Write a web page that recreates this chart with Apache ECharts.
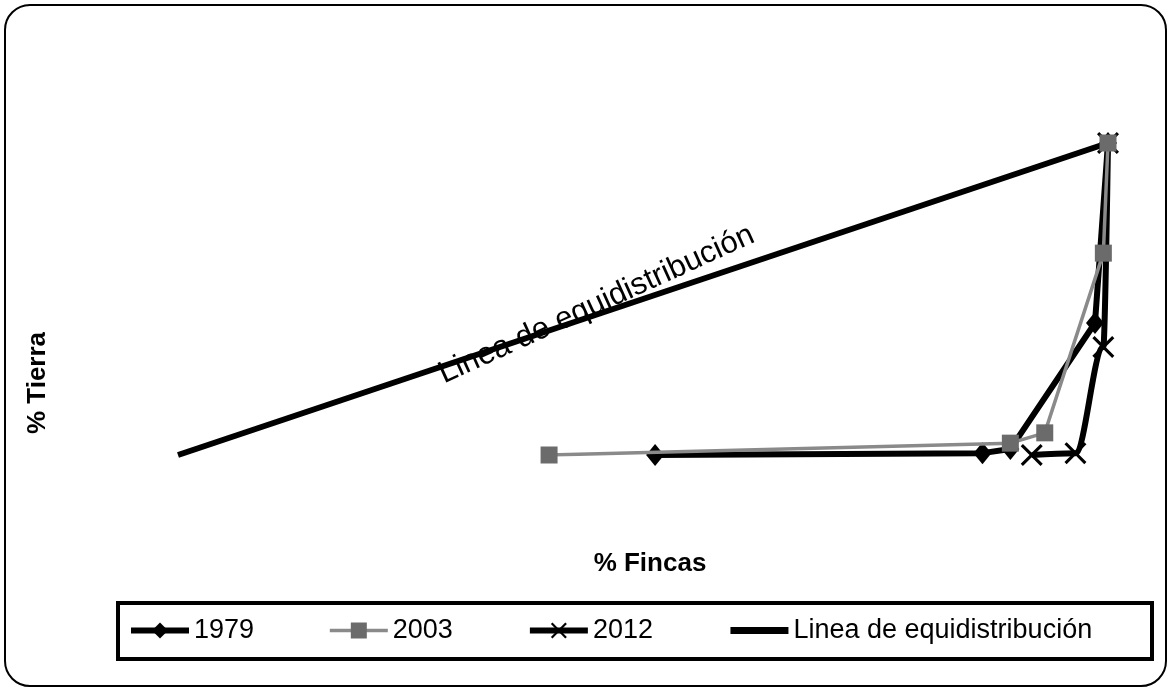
<!DOCTYPE html>
<html>
<head>
<meta charset="utf-8">
<script src="https://cdn.jsdelivr.net/npm/echarts@6/dist/echarts.min.js"></script>
<style>
html,body{margin:0;padding:0;background:#fff;}
#chart{width:1172px;height:690px;}
</style>
</head>
<body>
<div id="chart"></div>
<script>
// ---- Data ----
const seriesNames = ['1979', '2003', '2012', 'Linea de equidistribución'];
const fincas1979 = [51.3, 86.5, 89.5, 98.6, 100];
const tierra1979 = [0, 0.6, 1.9, 42.3, 100];
const fincas2003 = [39.9, 89.5, 93.2, 99.5, 100];
const tierra2003 = [0, 3.8, 7.1, 64.7, 100];
const fincas2012 = [91.8, 96.5, 99.5, 100];
const tierra2012 = [0, 0.6, 34.6, 100];
const fincasEqui = [0, 100];
const tierraEqui = [0, 100];
const xTitle = '% Fincas';
const yTitle = '% Tierra';
const diagLabel = 'Linea de equidistribución';

function pairs(xs, ys) { return xs.map((x, i) => [x, ys[i]]); }

const FONT = "'Liberation Sans', Arial, sans-serif";
const xSymbol = 'path://M0,1L1,0L5,4L9,0L10,1L6,5L10,9L9,10L5,6L1,10L0,9L4,5Z';

const chart = echarts.init(document.getElementById('chart'), null, {renderer: 'canvas'});
const hiddenAxis = {
  type: 'value', min: 0, max: 100,
  axisLine: {show: false}, axisTick: {show: false},
  axisLabel: {show: false}, splitLine: {show: false}
};
chart.setOption({
  backgroundColor: '#ffffff',
  animation: false,
  grid: {left: 178, right: 64, top: 143, bottom: 235},
  xAxis: Object.assign({}, hiddenAxis),
  yAxis: Object.assign({}, hiddenAxis),
  legend: {
    data: [
      {name: seriesNames[0], lineStyle: {width: 6, color: '#000'}},
      {name: seriesNames[1], lineStyle: {width: 3.5, color: '#8a8a8a'}},
      {name: seriesNames[2], lineStyle: {width: 6, color: '#000'}},
      {name: seriesNames[3], lineStyle: {width: 7, color: '#000'},
       itemStyle: {opacity: 0, color: 'rgba(0,0,0,0)', borderWidth: 0}}
    ],
    left: 128, top: 617,
    padding: 0,
    itemGap: 74,
    itemWidth: 58, itemHeight: 20,
    textStyle: {fontFamily: FONT, fontSize: 27, color: '#000'}
  },
  series: [
    {
      name: seriesNames[0], type: 'line',
      data: pairs(fincas1979, tierra1979),
      symbol: 'diamond', symbolSize: [18, 22],
      lineStyle: {color: '#000', width: 6},
      itemStyle: {color: '#000'}, z: 3
    },
    {
      name: seriesNames[1], type: 'line',
      data: pairs(fincas2003, tierra2003),
      symbol: 'rect', symbolSize: 17,
      lineStyle: {color: '#8a8a8a', width: 3.5},
      itemStyle: {color: '#6b6b6b'}, z: 4
    },
    {
      name: seriesNames[2], type: 'line',
      data: pairs(fincas2012, tierra2012),
      smooth: 0.35, smoothMonotone: 'x',
      symbol: xSymbol, symbolSize: 22,
      lineStyle: {color: '#000', width: 6},
      itemStyle: {color: '#000'}, z: 3
    },
    {
      name: seriesNames[3], type: 'line',
      data: pairs(fincasEqui, tierraEqui),
      symbol: 'none',
      lineStyle: {color: '#000', width: 6},
      itemStyle: {color: '#000'}, z: 2
    }
  ]
});

// annotation / frame positions
const anchor = chart.convertToPixel({gridIndex: 0}, [45.0, 48.2]);
chart.setOption({
  graphic: [
    {type: 'rect', z: 0, silent: true,
     shape: {x: 5, y: 5, width: 1161, height: 681, r: 25},
     style: {fill: 'none', stroke: '#000', lineWidth: 2}},
    {type: 'rect', z: 0, silent: true,
     shape: {x: 118, y: 603, width: 1034, height: 56},
     style: {fill: 'none', stroke: '#000', lineWidth: 4}},
    {type: 'text', z: 10, silent: true, x: 650, y: 564,
     style: {text: xTitle, fontFamily: FONT, fontWeight: 'bold', fontSize: 26,
             fill: '#000', align: 'center', verticalAlign: 'middle'}},
    {type: 'text', z: 10, silent: true, x: 38, y: 383, rotation: Math.PI / 2,
     style: {text: yTitle, fontFamily: FONT, fontWeight: 'bold', fontSize: 26,
             fill: '#000', align: 'center', verticalAlign: 'middle'}},
    {type: 'text', z: 10, silent: true, x: anchor[0], y: anchor[1],
     rotation: 24.5 * Math.PI / 180,
     style: {text: diagLabel, fontFamily: FONT, fontSize: 31,
             fill: '#000', align: 'center', verticalAlign: 'middle'}}
  ]
});
</script>
</body>
</html>
